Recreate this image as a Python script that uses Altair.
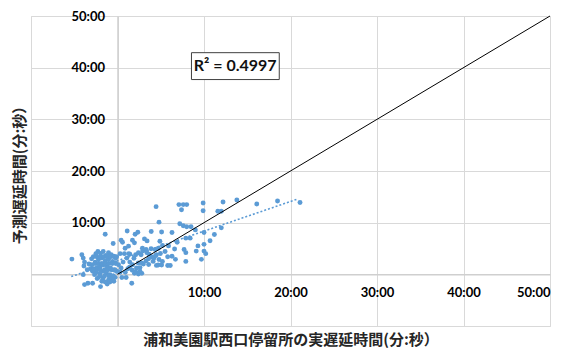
import altair as alt
import pandas as pd

# scatter points (minutes): actual delay (x) vs predicted delay (y)
pts_x = [4.46, 7.1, 7.6, 8.0, 7.4, 9.9, 9.9, 12.2, 13.8, 16.1, 18.5, 21.1, 11.6, 12.0, 4.8,
         7.2, 7.6, 8.0, 8.5, 9.0, 10.0, 12.0, 11.2, 5.1, 6.3, 7.9, 8.4, 6.9, 4.9, 5.2,
         5.9, 6.6, 9.3, 9.1, 10.0, 10.7, 10.0, 10.2, 9.7, 7.7, 7.9, 7.9, 6.7, 6.3, 5.8,
         6.1, 4.7, 5.1,
         -5.27, -4.12, -3.96, -3.81, -3.88, -3.96, -3.81, -3.42, -2.88, -1.96, -1.42, -0.5,
         0.42, 0.58, 1.12, 2.04, 2.35, 3.9, 3.12, 3.42, 1.73, 1.96, 0.88, 1.27, 2.88, 3.27,
         3.88, 4.35, 4.73, 2.42, 2.73, 3.65, 3.96, 4.5, 4.96, 5.5, 4.12, 4.8, 5.19, 4.5,
         5.8, 1.73, 2.19, 2.81, 2.42, 1.96, 1.65, 1.08, 1.42, 1.19, 0.12, 0.42, 0.65,
         -2.27, -1.96, -1.65, -1.35, -1.04, -0.73, -0.42, -0.19, -2.96, -2.58, -2.19, -1.81,
         -1.42, -1.04, -0.58, -0.27, -2.73, -2.35, -1.96, -1.58, -1.19, -0.81, -0.42, -0.12,
         -2.5, -2.04, -1.65, -1.27, -0.88, -0.5, -0.27, -2.19, -1.65, -1.04, -0.65, -0.42,
         -1.19, -0.88, -3.12, -2.88, -2.65, -2.35, -1.81, -1.42, -0.04,
         1.43, 2.1, 1.9, 2.9, 3.3, 3.4, 4.2, 4.4, 2.4, 2.8, 3.3, 3.6, 1.4, 1.7, 2.1, 2.6,
         -2.8, -2.4, -2.0, -1.6, -1.2, -0.8, -0.4, -0.1,
         -2.6, -2.2, -1.8, -1.4, -1.0, -0.6, -0.2,
         -2.8, -2.4, -2.0, -1.5, -1.1, -0.7, -0.3,
         -2.0, -1.5, -1.0, -0.5,
         0.3, 0.8, 1.3, 0.3, 0.9, 0.5, 1.0,
         -3.3, -3.5, -3.0, -2.5, 3.0, 3.6, 2.6]
pts_y = [13.1, 13.5, 13.5, 13.5, 12.5, 13.8, 12.3, 14.0, 14.4, 13.6, 14.2, 13.9, 12.2, 12.2, 10.1,
         9.8, 9.4, 9.2, 9.2, 8.6, 8.1, 9.0, 7.7, 8.2, 8.1, 7.0, 7.0, 6.2, 6.4, 5.6,
         5.5, 4.9, 5.5, 4.5, 5.8, 6.5, 4.5, 4.0, 2.9, 4.8, 4.2, 2.5, 2.9, 3.5, 1.7,
         1.7, 1.8, 1.8,
         2.95, 3.78, 3.14, 2.37, 1.6, -0.06, -1.99, -1.73, -1.73, -2.37, 7.76, 5.96,
         6.6, 6.22, 8.4, 7.76, 8.14, 8.3, 6.86, 6.47, 6.6, 6.09, 5.06, 5.45, 5.06, 4.68,
         4.94, 4.81, 5.06, 4.17, 3.78, 3.91, 3.4, 3.78, 4.04, 4.42, 2.5, 2.88, 2.5, 1.73,
         3.4, 1.86, 1.22, 0.19, 0.06, 0.19, -1.73, 3.14, 2.37, 1.09, 1.86, 1.22, 2.37,
         4.42, 4.04, 4.42, 3.65, 4.17, 3.78, 3.53, 3.14, 1.86, 2.37, 2.88, 3.14,
         2.63, 2.88, 2.5, 2.24, 1.09, 1.35, 1.6, 1.86, 1.47, 1.22, 0.83, 0.58,
         0.32, 0.19, 0.58, 0.19, -0.06, -0.32, -0.58, -0.58, -0.71, -1.09, -0.83, -1.35,
         -1.86, -1.47, 1.09, 0.58, -0.06, -0.83, -1.35, -1.47, 0.58,
         3.9, 3.8, 3.1, 4.5, 4.8, 4.2, 3.1, 3.6, 2.2, 2.2, 2.6, 3.0, 1.4, 0.8, 0.5, 1.3,
         3.4, 3.4, 3.4, 3.4, 3.4, 3.4, 3.4, 3.4,
         2.1, 2.1, 2.1, 2.1, 2.1, 2.1, 2.1,
         0.9, 0.9, 0.9, 0.9, 0.9, 0.9, 0.9,
         -0.3, -0.3, -0.3, -0.3,
         4.0, 4.0, 4.0, 0.4, 0.4, -0.6, -0.6,
         2.0, 0.9, 3.0, 4.0, 2.0, 1.9, 0.6]

# identity line y = x
diag_x = [0, 50]
diag_y = [0, 50]

# linear trendline (endpoints)
trend_x = [-5.35, 20.8]
trend_y = [-0.44, 14.56]

# R² annotation
r2_label = ["R² = 0.4997"]
r2_x = [13.6]
r2_y = [40.3]
box_x = [8.55]
box_x2 = [18.7]
box_y = [37.7]
box_y2 = [42.9]

tick_vals = [-10, 0, 10, 20, 30, 40, 50]

W, H = 519, 310
DOM = [-10, 50]
# offsets that bring each axis to the zero line of the other scale
x_axis_off = -(0 - DOM[0]) / (DOM[1] - DOM[0]) * H
y_axis_off = -(0 - DOM[0]) / (DOM[1] - DOM[0]) * W

label_expr = "datum.value > 0 ? datum.value + ':00' : ''"

xaxis = alt.Axis(values=tick_vals, labelExpr=label_expr, offset=x_axis_off,
                 title="浦和美園駅西口停留所の実遅延時間(分:秒）",
                 titleY=65, titleBaseline="middle",
                 ticks=False, tickSize=0, labelPadding=12,
                 labelFont="Lato", labelFontWeight="bold", labelFontSize=13, labelColor="#000000",
                 titleFont="Noto Sans CJK JP", titleFontWeight="bold", titleFontSize=15,
                 titleColor="#262626",
                 domainColor="#cfcfcf", domainWidth=1.5,
                 gridColor="#d9d9d9", gridWidth=1)
yaxis = alt.Axis(values=tick_vals, labelExpr=label_expr, offset=y_axis_off,
                 title="予測遅延時間(分:秒）",
                 titleX=-98, titleBaseline="middle",
                 ticks=False, tickSize=0, labelPadding=13,
                 labelFont="Lato", labelFontWeight="bold", labelFontSize=13, labelColor="#000000",
                 titleFont="Noto Sans CJK JP", titleFontWeight="bold", titleFontSize=15,
                 titleColor="#262626",
                 domainColor="#cfcfcf", domainWidth=1.5,
                 gridColor="#d9d9d9", gridWidth=1)

xs = alt.Scale(domain=DOM, nice=False)
ys = alt.Scale(domain=DOM, nice=False)

pts = pd.DataFrame({"x": pts_x, "y": pts_y})
diag = pd.DataFrame({"x": diag_x, "y": diag_y})
trend = pd.DataFrame({"x": trend_x, "y": trend_y})
r2 = pd.DataFrame({"label": r2_label, "x": r2_x, "y": r2_y})
box = pd.DataFrame({"x": box_x, "x2": box_x2, "y": box_y, "y2": box_y2})

points = alt.Chart(pts).mark_circle(size=24, color="#5B9BD5", opacity=1).encode(
    x=alt.X("x:Q", scale=xs, axis=xaxis),
    y=alt.Y("y:Q", scale=ys, axis=yaxis),
)
diag_line = alt.Chart(diag).mark_line(color="#000000", strokeWidth=1).encode(
    x=alt.X("x:Q", scale=xs, axis=xaxis),
    y=alt.Y("y:Q", scale=ys, axis=yaxis),
)
trend_line = alt.Chart(trend).mark_line(color="#5B9BD5", strokeWidth=1.6, strokeDash=[2, 2]).encode(
    x=alt.X("x:Q", scale=xs, axis=xaxis),
    y=alt.Y("y:Q", scale=ys, axis=yaxis),
)
box_mark = alt.Chart(box).mark_rect(fill="white", stroke="#404040", strokeWidth=1).encode(
    x=alt.X("x:Q", scale=xs, axis=xaxis), x2="x2:Q",
    y=alt.Y("y:Q", scale=ys, axis=yaxis), y2="y2:Q",
)
r2_text = alt.Chart(r2).mark_text(font="Lato", fontWeight="bold", fontSize=16,
                                  color="#111111", align="center", baseline="middle").encode(
    x=alt.X("x:Q", scale=xs, axis=xaxis),
    y=alt.Y("y:Q", scale=ys, axis=yaxis),
    text="label:N",
)

chart = alt.layer(points, trend_line, diag_line, box_mark, r2_text).properties(
    width=W, height=H,
    padding={"left": 4, "top": 2, "right": 0, "bottom": 0},
).configure_view(stroke="#d9d9d9", strokeWidth=1).configure(background="white")

chart.save("out.html", embed_options={"renderer": "svg", "actions": False})
